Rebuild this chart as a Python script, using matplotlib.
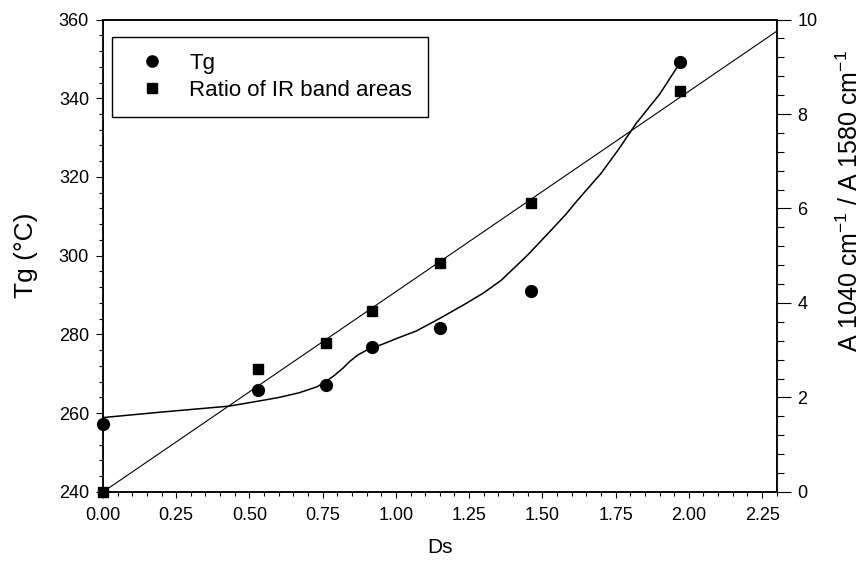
import matplotlib
matplotlib.use("Agg")
import matplotlib.pyplot as plt
import numpy as np
from matplotlib.ticker import MultipleLocator, FixedLocator

plt.rcParams['font.family'] = ['Liberation Sans', 'DejaVu Sans']
plt.rcParams['mathtext.fontset'] = 'custom'
plt.rcParams['mathtext.rm'] = 'Liberation Sans'
plt.rcParams['mathtext.it'] = 'Liberation Sans:italic'

# ---- data ----
ds_tg = [0.00, 0.53, 0.76, 0.92, 1.15, 1.46, 1.97]
tg = [257.3, 265.9, 267.2, 276.9, 281.6, 291.1, 349.1]

ds_ratio = [0.00, 0.53, 0.76, 0.92, 1.15, 1.46, 1.97]
ratio = [0.00, 2.60, 3.15, 3.83, 4.85, 6.12, 8.49]

# smooth Tg curve
curve_ds = [0.00, 0.20, 0.43, 0.54, 0.60, 0.67, 0.73, 0.76, 0.79, 0.82, 0.84, 0.87,
            0.90, 0.96, 1.01, 1.07, 1.15, 1.24, 1.30, 1.36, 1.45, 1.53, 1.58, 1.62,
            1.70, 1.76, 1.82, 1.90, 1.97]
curve_tg = [258.9, 260.3, 261.8, 263.2, 264.0, 265.2, 266.7, 268.0, 269.6, 271.5, 273.0, 274.8,
            276.0, 277.7, 279.2, 280.9, 284.1, 287.9, 290.6, 293.8, 300.2, 306.5, 310.5, 314.1,
            320.9, 327.0, 333.6, 341.0, 349.0]

# linear fit of IR ratio
fit_intercept = 0.0
fit_slope = 4.24

x_ticks = [0.00, 0.25, 0.50, 0.75, 1.00, 1.25, 1.50, 1.75, 2.00, 2.25]
x_ticklabels = ['0.00', '0.25', '0.50', '0.75', '1.00', '1.25', '1.50', '1.75', '2.00', '2.25']
tg_ticks = [240, 260, 280, 300, 320, 340, 360]
ratio_ticks = [0, 2, 4, 6, 8, 10]

fig = plt.figure(figsize=(8.66, 5.67), dpi=100)
ax1 = fig.add_axes([0.1189, 0.1323, 0.8969 - 0.1189, 0.9656 - 0.1323])
ax2 = ax1.twinx()

ax1.set_xlim(0, 2.3)
ax1.set_ylim(240, 360)
ax2.set_ylim(0, 10)

# Tg curve + points
ax1.plot(curve_ds, curve_tg, color='black', lw=1.1, zorder=2, solid_joinstyle='round')
h1, = ax1.plot(ds_tg, tg, 'o', color='black', ms=8.5, clip_on=False, zorder=4, label='Tg')

# ratio fit + points
xf = np.array(ax1.get_xlim())
ax2.plot(xf, fit_intercept + fit_slope * xf, color='black', lw=0.8, zorder=2)
h2, = ax2.plot(ds_ratio, ratio, 's', color='black', ms=7.8, clip_on=False, zorder=4,
               label='Ratio of IR band areas')

# ticks
ax1.xaxis.set_major_locator(FixedLocator(x_ticks))
ax1.set_xticklabels(x_ticklabels)
ax1.xaxis.set_minor_locator(MultipleLocator(0.05))
ax1.yaxis.set_major_locator(FixedLocator(tg_ticks))
ax1.yaxis.set_minor_locator(MultipleLocator(4))
ax2.yaxis.set_major_locator(FixedLocator(ratio_ticks))
ax2.yaxis.set_minor_locator(MultipleLocator(0.4))

ax1.tick_params(axis='x', which='major', direction='out', length=4.5, width=0.8,
                labelsize=13, pad=6, top=False)
ax1.tick_params(axis='x', which='minor', direction='out', length=2.7, width=0.8, top=False)
ax1.tick_params(axis='y', which='major', direction='out', length=5, width=0.8,
                labelsize=13, pad=5, right=False)
ax1.tick_params(axis='y', which='minor', direction='out', length=3, width=0.8, right=False)
ax2.tick_params(axis='y', which='major', direction='out', length=10, width=0.8,
                labelsize=13, pad=5)
ax2.tick_params(axis='y', which='minor', direction='out', length=5, width=0.8)

for ax in (ax1, ax2):
    for s in ax.spines.values():
        s.set_linewidth(1.1)
        s.set_color('black')

# labels
ax1.set_xlabel('Ds', fontsize=15)
ax1.xaxis.set_label_coords(0.5, -0.097)
ax1.set_ylabel('Tg (°C)', fontsize=19)
ax1.yaxis.set_label_coords(-0.097, 0.50)
ax2.set_ylabel('A 1040 cm$^{-1}$ / A 1580 cm$^{-1}$', fontsize=18)
ax2.yaxis.set_label_coords(1.089, 0.616)

leg = ax2.legend(handles=[h1, h2], loc='upper left', bbox_to_anchor=(0.0134, 0.963),
                 borderaxespad=0, fontsize=16, frameon=True, fancybox=False,
                 edgecolor='black', framealpha=1, borderpad=0.7, labelspacing=0.3,
                 handlelength=2.17, handletextpad=0.6, markerscale=0.95)
leg.get_frame().set_linewidth(1.0)

fig.savefig('out.png', dpi=100)
